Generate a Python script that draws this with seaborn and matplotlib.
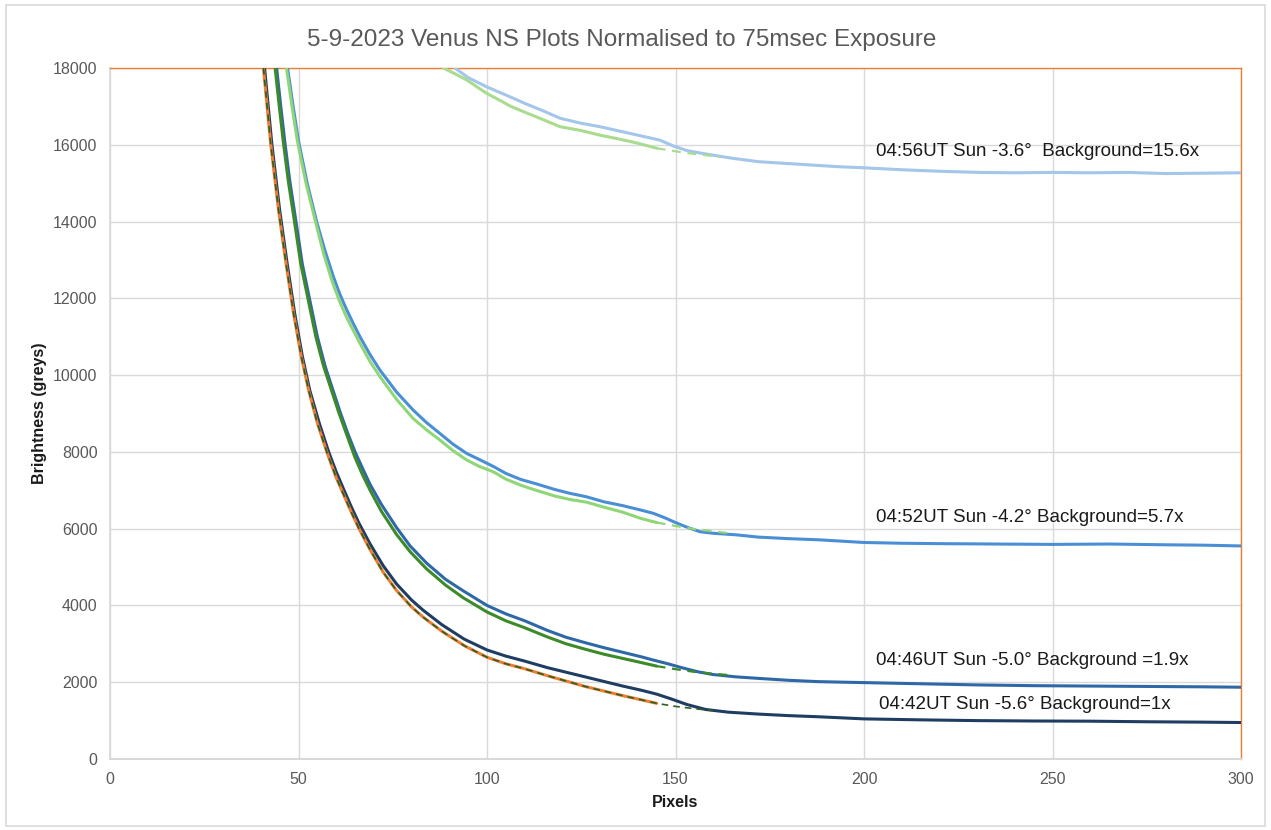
import matplotlib
matplotlib.use("Agg")
import matplotlib.pyplot as plt
import seaborn as sns
from matplotlib.patches import Rectangle

# ---------------- data ----------------
# 04:42UT measured (navy)
g42_x = [41.0, 42.9, 45.0, 47.0, 49.0, 51.0, 53.0, 55.5, 58.0, 60.0, 62.0, 64.0, 66.0, 69.0, 72.5,
         76.0, 80.0, 83.0, 88.0, 94.0, 100.0, 105.0, 110.0, 116.0, 121.0, 126.0, 131.0, 136.0, 141.0,
         145.0, 149.0, 153.0, 158.0, 164.0, 172.0, 180.0, 188.0, 200.0, 215.0, 230.0, 245.0, 260.0,
         275.0, 290.0, 300.0]
g42_y = [18000, 16050, 14300, 12900, 11600, 10500, 9600, 8750, 8000, 7480, 7020, 6570, 6150, 5600, 5030,
         4560, 4140, 3880, 3500, 3120, 2840, 2680, 2550, 2380, 2260, 2140, 2020, 1900, 1790,
         1690, 1560, 1420, 1290, 1220, 1170, 1130, 1100, 1045, 1020, 1000, 990, 985,
         970, 960, 950]
# 04:42UT fit region (orange) and its dashed continuation
f42_x = [40.7, 42.6, 44.7, 46.7, 48.7, 50.7, 52.7, 55.0, 57.5, 60.0, 62.0, 64.0, 66.0, 69.0, 72.5,
         76.0, 80.0, 83.0, 88.0, 94.0, 100.0, 105.0, 110.0, 116.0, 121.0, 126.0, 131.0, 136.0, 141.0, 145.0]
f42_y = [18000, 16050, 14300, 12900, 11600, 10500, 9600, 8750, 8000, 7330, 6880, 6430, 6010, 5450, 4860,
         4390, 3960, 3700, 3330, 2950, 2650, 2480, 2350, 2170, 2030, 1890, 1770, 1650, 1540, 1450]
e42_x = [150.0, 155.0, 160.0]
e42_y = [1370, 1310, 1260]

# 04:46UT measured (blue)
g46_x = [44.2, 45.3, 46.4, 47.7, 49.1, 51.0, 53.0, 55.0, 57.0, 59.0, 61.0, 63.0, 65.0, 67.0, 69.0,
         72.0, 76.0, 79.6, 84.0, 89.0, 93.7, 100.0, 105.0, 110.0, 116.0, 121.0, 126.4, 131.0, 136.0,
         141.0, 144.0, 148.0, 152.0, 156.0, 160.0, 166.0, 172.0, 180.0, 188.0, 200.0, 215.0, 230.0,
         245.0, 260.0, 275.0, 290.0, 300.0]
g46_y = [18000, 17000, 16050, 15050, 14150, 12900, 11950, 11000, 10250, 9650, 9050, 8500, 8000, 7570, 7150,
         6630, 6030, 5550, 5100, 4680, 4380, 4000, 3780, 3600, 3350, 3170, 3020, 2900, 2780,
         2660, 2580, 2480, 2370, 2270, 2200, 2140, 2100, 2050, 2015, 1990, 1960, 1930,
         1910, 1900, 1890, 1880, 1870]
# 04:46UT fit (green)
f46_x = [43.8, 44.9, 46.0, 47.3, 48.7, 50.6, 52.6, 54.6, 56.6, 58.6, 60.6, 62.6, 65.0, 67.0, 69.0,
         72.0, 76.0, 79.6, 84.0, 89.0, 93.7, 100.0, 105.0, 110.0, 116.0, 121.0, 126.4, 131.0, 136.0,
         141.0, 145.0]
f46_y = [18000, 17000, 16050, 15050, 14150, 12900, 11950, 11000, 10250, 9650, 9050, 8500, 7850, 7400, 7000,
         6450, 5850, 5400, 4950, 4530, 4200, 3830, 3600, 3420, 3180, 3000, 2850, 2730, 2620,
         2510, 2420]
e46_x = [145.0, 150.0, 155.0, 160.0, 165.0]
e46_y = [2420, 2340, 2270, 2220, 2180]

# 04:52UT measured (mid blue)
g52_x = [47.1, 48.5, 50.0, 52.3, 54.8, 57.0, 59.2, 61.0, 62.8, 64.5, 66.3, 69.0, 71.6, 76.0, 80.4,
         84.0, 87.5, 91.0, 94.6, 98.0, 101.7, 105.0, 109.0, 113.0, 118.0, 122.0, 126.4, 131.0, 136.0,
         141.0, 144.1, 147.0, 150.0, 153.0, 156.5, 160.0, 166.0, 172.0, 180.0, 188.0, 200.0, 210.0,
         220.0, 235.0, 250.0, 265.0, 280.0, 290.0, 300.0]
g52_y = [18000, 17050, 16100, 15000, 14000, 13250, 12580, 12100, 11700, 11350, 11000, 10530, 10130, 9560, 9090,
         8760, 8480, 8200, 7960, 7800, 7620, 7440, 7280, 7170, 7020, 6920, 6830, 6700, 6600,
         6480, 6400, 6290, 6160, 6040, 5920, 5880, 5840, 5780, 5740, 5710, 5640, 5620,
         5610, 5600, 5590, 5600, 5580, 5570, 5550]
# 04:52UT fit (light green)
f52_x = [46.8, 48.2, 49.7, 52.0, 54.5, 56.7, 59.0, 61.0, 62.8, 64.5, 66.3, 69.0, 71.6, 76.0, 80.4,
         84.0, 87.5, 91.0, 94.6, 98.0, 101.7, 105.0, 109.0, 113.0, 118.0, 122.0, 126.4, 131.0, 136.0,
         141.0, 145.0]
f52_y = [18000, 17050, 16100, 15000, 14000, 13150, 12420, 11900, 11500, 11170, 10830, 10350, 9960, 9370, 8870,
         8570, 8310, 8030, 7790, 7620, 7480, 7290, 7130, 7000, 6850, 6760, 6690, 6560, 6430,
         6260, 6160]
e52_x = [145.0, 150.0, 155.0, 160.0, 164.5]
e52_y = [6160, 6070, 5990, 5930, 5880]

# 04:56UT measured (light blue)
g56_x = [91.5, 95.0, 99.9, 103.0, 106.1, 110.0, 115.0, 119.4, 125.0, 130.0, 135.0, 140.0, 145.9, 149.4,
         153.0, 158.0, 165.0, 172.0, 180.0, 186.5, 193.0, 200.0, 210.0, 220.0, 230.8, 240.0, 250.0,
         260.0, 270.0, 280.0, 290.0, 300.0]
g56_y = [18000, 17750, 17510, 17380, 17250, 17080, 16880, 16690, 16560, 16470, 16360, 16250, 16120, 15970,
         15850, 15760, 15650, 15560, 15510, 15470, 15430, 15400, 15350, 15310, 15280, 15270, 15280,
         15270, 15280, 15250, 15260, 15270]
# 04:56UT fit (pale green)
f56_x = [88.4, 91.5, 94.6, 99.9, 103.0, 106.1, 110.0, 115.0, 119.4, 125.0, 130.0, 135.0, 140.0, 145.0]
f56_y = [18000, 17850, 17690, 17340, 17180, 17010, 16850, 16650, 16470, 16370, 16250, 16150, 16040, 15910]
e56_x = [145.0, 150.0, 155.0, 161.8]
e56_y = [15910, 15830, 15760, 15690]

labels = ["04:56UT Sun -3.6\u00b0  Background=15.6x",
          "04:52UT Sun -4.2\u00b0 Background=5.7x",
          "04:46UT Sun -5.0\u00b0 Background =1.9x",
          "04:42UT Sun -5.6\u00b0 Background=1x"]
label_x = [203.2, 203.2, 203.2, 204.0]
label_y = [15830, 6300, 2560, 1410]

x_ticks = [0, 50, 100, 150, 200, 250, 300]
y_ticks = list(range(0, 18001, 2000))

# ---------------- style ----------------
sns.set_theme(style="white")
plt.rcParams['font.family'] = ['Liberation Sans', 'DejaVu Sans']

fig = plt.figure(figsize=(12.71, 8.30), dpi=100)
ax = fig.add_axes([110 / 1271, (830 - 759) / 830, 1131 / 1271, 691 / 830])

# figure border
fig.patches.append(Rectangle((6 / 1271, 4 / 830), 1259 / 1271, 821 / 830, transform=fig.transFigure,
                             fill=False, edgecolor='#d9d9d9', linewidth=1.2))

LW = 2.2
# measured curves
sns.lineplot(x=g56_x, y=g56_y, ax=ax, color='#a3c6ea', linewidth=LW, zorder=3)
sns.lineplot(x=g52_x, y=g52_y, ax=ax, color='#4a8fd6', linewidth=LW, zorder=3)
sns.lineplot(x=g46_x, y=g46_y, ax=ax, color='#2e68a6', linewidth=LW, zorder=3)
sns.lineplot(x=g42_x, y=g42_y, ax=ax, color='#1f3d63', linewidth=LW, zorder=3)

# fitted regions
sns.lineplot(x=f56_x, y=f56_y, ax=ax, color='#a9dc8f', linewidth=LW, zorder=4)
sns.lineplot(x=e56_x, y=e56_y, ax=ax, color='#a9dc8f', linewidth=1.6, linestyle=(0, (4, 3)), zorder=4)
sns.lineplot(x=f52_x, y=f52_y, ax=ax, color='#8fd677', linewidth=LW, zorder=4)
sns.lineplot(x=e52_x, y=e52_y, ax=ax, color='#8fd677', linewidth=1.6, linestyle=(0, (4, 3)), zorder=4)
sns.lineplot(x=f46_x, y=f46_y, ax=ax, color='#3c8a28', linewidth=LW, zorder=4)
sns.lineplot(x=e46_x, y=e46_y, ax=ax, color='#3c8a28', linewidth=1.6, linestyle=(0, (4, 3)), zorder=4)
sns.lineplot(x=f42_x, y=f42_y, ax=ax, color='#ed7d31', linewidth=LW, zorder=4)
sns.lineplot(x=f42_x + e42_x, y=f42_y + e42_y, ax=ax, color='#2f5f22', linewidth=1.2,
             linestyle=(0, (4, 3)), zorder=5)

# annotations
for t, tx, ty in zip(labels, label_x, label_y):
    ax.text(tx, ty, t, fontsize=13.5, color='#1a1a1a', ha='left', va='center', zorder=6)

ax.set_xlim(0, 300)
ax.set_ylim(0, 18000)
ax.set_xticks(x_ticks)
ax.set_yticks(y_ticks)
ax.set_xticklabels([str(v) for v in x_ticks])
ax.set_yticklabels([str(v) for v in y_ticks])
ax.tick_params(axis='both', length=0, labelsize=11.5, labelcolor='#595959')
ax.tick_params(axis='y', pad=9)
ax.tick_params(axis='x', pad=9)
ax.grid(True, color='#d9d9d9', linewidth=1.0)
ax.set_axisbelow(True)

ax.spines['top'].set_color('#ed7d31')
ax.spines['right'].set_color('#ed7d31')
ax.spines['top'].set_linewidth(1.0)
ax.spines['right'].set_linewidth(1.0)
ax.spines['left'].set_color('#d9d9d9')
ax.spines['bottom'].set_color('#d9d9d9')
ax.spines['bottom'].set_linewidth(1.5)
for s in ax.spines.values():
    s.set_visible(True)

ax.set_xlabel('')
ax.set_ylabel('')
fig.text(675 / 1271, (830 - 802) / 830, 'Pixels', ha='center', va='center',
         fontsize=11.5, fontweight='bold', color='#1a1a1a')
fig.text(40 / 1271, (830 - 413) / 830, 'Brightness (greys)', ha='center', va='center',
         rotation=90, fontsize=11.5, fontweight='bold', color='#1a1a1a')
fig.text(622 / 1271, (830 - 40) / 830, '5-9-2023 Venus NS Plots Normalised to 75msec Exposure',
         ha='center', va='center', fontsize=17.5, color='#595959')

fig.savefig('out.png', dpi=100)
